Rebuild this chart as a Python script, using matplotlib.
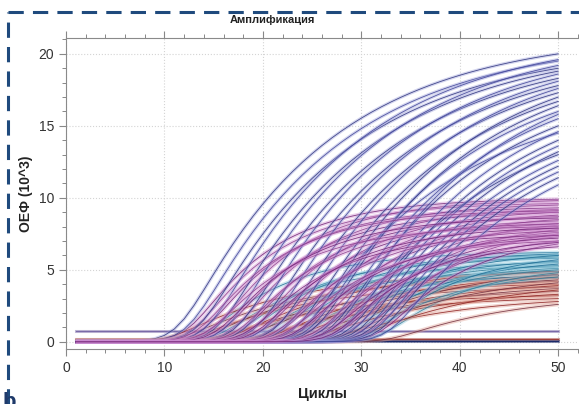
import matplotlib
matplotlib.use("Agg")
import matplotlib.pyplot as plt
import matplotlib.ticker as ticker
from matplotlib.lines import Line2D
import numpy as np

plt.rcParams['font.family'] = ['Liberation Sans', 'DejaVu Sans']

# cycles measured
cycles = np.arange(1, 51)

# per-curve readings: cycle where the curve takes off, value at cycle 50
blue_onset = [11.5, 12.5, 13.5, 14.5, 15.5, 16.5, 17.5, 18.5, 19.5, 20.5,
              21.5, 22.5, 23.5, 24.0, 24.5, 25.0, 25.5, 26.5, 27.0, 27.5,
              28.0, 28.5, 29.0, 29.5, 30.0, 30.5, 31.0, 31.5, 32.0, 33.0]
blue_final = [20.0, 19.5, 19.0, 19.6, 18.8, 19.2, 18.3, 18.6, 17.8, 18.1,
              17.3, 17.6, 16.7, 14.5, 17.0, 16.0, 16.4, 15.5, 15.0, 15.8,
              13.0, 14.6, 14.0, 13.6, 13.2, 12.6, 12.2, 11.8, 11.4, 10.9]

purple_onset = [12.5, 13.0, 14.0, 15.0, 16.0, 17.0, 18.0, 19.0, 20.0, 21.0,
                22.0, 23.0, 24.0, 25.0, 26.0, 27.0, 28.0, 29.0, 30.0, 31.0,
                32.0, 14.5, 18.5, 22.5, 26.5, 13.5, 15.5, 17.5, 19.5, 21.5,
                23.5, 25.5, 27.5]
purple_final = [9.9, 9.6, 9.3, 9.8, 9.0, 9.5, 8.7, 9.2, 8.4, 9.0,
                8.2, 8.8, 7.9, 8.5, 7.6, 8.1, 7.3, 7.8, 7.0, 7.5,
                6.8, 8.0, 7.4, 7.0, 6.6, 9.1, 8.6, 8.2, 7.9, 7.7,
                7.2, 7.4, 6.9]

teal_onset = [14.0, 15.5, 17.0, 18.0, 19.0, 20.0, 21.0, 22.0, 23.0, 24.0,
              25.0, 26.0, 27.0, 28.0, 29.0, 30.0, 31.0, 32.0]
teal_final = [6.2, 5.2, 5.8, 6.0, 4.9, 5.5, 6.1, 5.9, 4.6, 5.3,
              5.6, 5.1, 6.0, 5.0, 5.4, 4.5, 5.7, 4.8]

red_onset = [10.5, 11.5, 12.5, 13.5, 14.5, 15.5, 16.5, 17.5, 18.5, 19.5,
             20.5, 21.5, 22.5, 23.5, 24.5, 25.5, 26.5, 27.5, 29.0, 33.0]
red_final = [4.8, 4.4, 4.0, 4.6, 3.2, 3.8, 4.9, 4.2, 3.0, 3.5,
             4.5, 4.3, 3.9, 3.7, 3.3, 4.7, 2.8, 4.1, 3.6, 2.6]

# flat (negative) wells
flat_levels = [0.72, 0.22, 0.03]
flat_colors = ['#7a6aa8', '#a0403a', '#1c2a6a']

# group styles: (core colours, halo colour, halo width, saturation constant in cycles)
groups = [
    (blue_onset, blue_final, ['#2a2f7a', '#3b3f95'], '#9296d6', 2.4, 14.4),
    (purple_onset, purple_final, ['#6e1f72', '#8a3a8a'], '#cf8acf', 2.8, 8.0),
    (teal_onset, teal_final, ['#1b6a92', '#2c7a96'], '#82c2d8', 2.8, 8.0),
    (red_onset, red_final, ['#8a1c1c', '#6e2a3a'], '#de9a8c', 2.8, 12.0),
]


def amp_curve(onset, final, tau, w=1.2):
    u = w * np.log1p(np.exp((cycles - onset) / w))
    s = 1.0 - np.exp(-u / tau)
    s = s - s[0]
    return final * s / s[-1]


fig = plt.figure(figsize=(5.79, 4.04), dpi=100)
ax = fig.add_axes([66 / 579, 55 / 404, 512 / 579, 311 / 404])

for level, col in zip(flat_levels, flat_colors):
    ax.plot(cycles, np.full_like(cycles, level, dtype=float), color=col, lw=2.2, alpha=0.45)
    ax.plot(cycles, np.full_like(cycles, level, dtype=float), color=col, lw=0.9)

# wells are drawn in plate order, so the groups interleave
wells = []
for onsets, finals, cores, halo, hw, tau in groups:
    for i, (on, fin) in enumerate(zip(onsets, finals)):
        wells.append((i, on, fin, cores[i % 2], halo, hw, tau))
wells.sort(key=lambda w: w[0])
for _, on, fin, core, halo, hw, tau in wells:
    y = amp_curve(on, fin, tau)
    ax.plot(cycles, y, color=halo, lw=hw, alpha=0.4, solid_capstyle='butt')
    ax.plot(cycles, y, color=core, lw=0.6, alpha=0.85)

ax.set_xlim(0, 52.0)
ax.set_ylim(-0.5, 21.1)
ax.xaxis.set_major_locator(ticker.MultipleLocator(10))
ax.xaxis.set_minor_locator(ticker.MultipleLocator(2))
ax.yaxis.set_major_locator(ticker.MultipleLocator(5))
ax.yaxis.set_minor_locator(ticker.MultipleLocator(1))
ax.grid(True, which='major', color='#d4d4d4', lw=0.8, ls=':')
ax.tick_params(which='both', top=True, colors='#888888', labelcolor='#333333', labelsize=10)
ax.tick_params(which='major', length=5, width=0.8)
ax.tick_params(which='minor', length=3, width=0.7)
for side in ['left', 'bottom', 'top']:
    ax.spines[side].set_color('#8a8a8a')
    ax.spines[side].set_linewidth(0.8)
ax.spines['right'].set_visible(False)

fig.text(272 / 579, 1 - 20 / 404, 'Амплификация', fontsize=8, fontweight='bold',
         color='#222222', ha='center', va='center')
ax.set_xlabel('Циклы', fontsize=10.5, fontweight='bold', color='#222222', labelpad=9)
ax.set_ylabel('ОЕФ (10^3)', fontsize=10, fontweight='bold', color='#222222', labelpad=4)

# dashed frame of the panel
frame_kw = dict(color='#1f4a7d', lw=2.2, ls=(0, (5, 3)), transform=fig.transFigure)
fig.add_artist(Line2D([8 / 579, 8 / 579], [0.0, 1 - 12 / 404], **frame_kw))
fig.add_artist(Line2D([8 / 579, 1.0], [1 - 12 / 404, 1 - 12 / 404], **frame_kw))
fig.text(3 / 579, -9 / 404, 'b', fontsize=16, fontweight='bold', color='#1f3a6a', va='bottom')

fig.savefig('out.png', dpi=100)
